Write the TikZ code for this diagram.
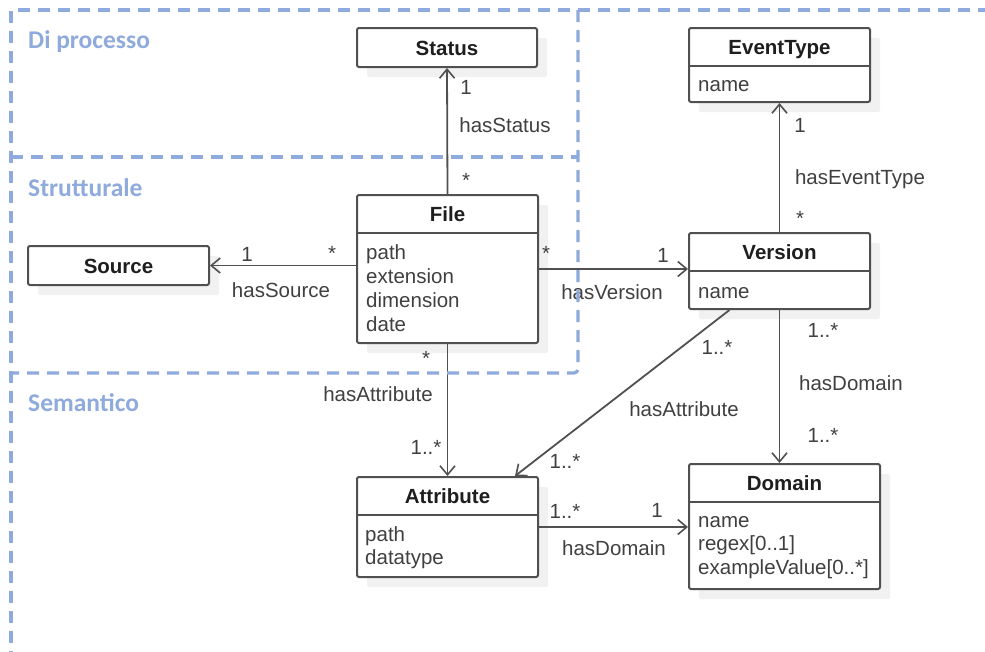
\documentclass[tikz,border=0pt]{standalone}
\usepackage{fontspec}
\setmainfont{Liberation Sans}
\newfontfamily\zonefont{Carlito}
\usetikzlibrary{arrows.meta,shadows}

\definecolor{zoneblue}{HTML}{8FAADC}
\definecolor{boxline}{HTML}{505050}
\definecolor{shadowgrey}{HTML}{F1F1F1}
\definecolor{textgrey}{HTML}{404040}
\definecolor{titleink}{HTML}{1E1E1E}

\begin{document}
\begin{tikzpicture}[x=1pt,y=-1pt,
  zone/.style={draw=zoneblue, line width=3.2pt, dash pattern=on 12pt off 8pt},
  zonelabel/.style={font=\zonefont\bfseries\fontsize{25.5}{28}\selectfont,
    text=zoneblue, anchor=base west, inner sep=0pt},
  classbox/.style={draw=boxline, line width=2pt, fill=white,
    rounded corners=2pt, inner sep=0pt,
    drop shadow={shadow xshift=10pt, shadow yshift=-10pt,
      fill=shadowgrey, opacity=1}},
  sepline/.style={draw=boxline, line width=2pt},
  classname/.style={font=\bfseries\fontsize{20.5}{24}\selectfont,
    text=titleink, inner sep=0pt, text height=15pt, text depth=0pt},
  attrlist/.style={font=\fontsize{20.5}{24}\selectfont, text=textgrey,
    align=left, anchor=north west, inner sep=0pt},
  assoc/.style={draw=boxline, line width=1.8pt,
    -{Straight Barb[length=9pt, width=15pt, line width=1.6pt]}},
  rel/.style={font=\fontsize{20.5}{24}\selectfont, text=textgrey,
    anchor=base, inner sep=0pt}
]
\useasboundingbox (0,0) rectangle (985,651);

\node[zonelabel] (zone-proc) at (28,48) {Di processo};
\node[zonelabel] (zone-strut) at (28,196) {Strutturale};
\node[zonelabel] (zone-sem) at (28,411) {Semantico};

% classes
\node[classbox, minimum width=180pt, minimum height=39pt] (status) at (447,47.5) {};
\node[classname] (status-name) at (status.center) {Status};

\node[classbox, minimum width=181pt, minimum height=39pt] (source) at (118.5,265.5) {};
\node[classname] (source-name) at (source.center) {Source};

\node[classbox, minimum width=181pt, minimum height=148pt] (file) at (447.5,269) {};
\draw[sepline] ([yshift=-39pt]file.north west) -- ([yshift=-39pt]file.north east);
\node[classname] (file-name) at ([yshift=-19.5pt]file.north) {File};
\node[attrlist] (file-attrs) at (366,243)
  {\rule{0pt}{16pt}path\\extension\\dimension\\date};

\node[classbox, minimum width=181pt, minimum height=74pt] (eventtype) at (779.5,65) {};
\draw[sepline] ([yshift=-39pt]eventtype.north west) -- ([yshift=-39pt]eventtype.north east);
\node[classname] (eventtype-name) at ([yshift=-19.5pt]eventtype.north) {EventType};
\node[attrlist] (eventtype-attrs) at (698,75) {\rule{0pt}{16pt}name};

\node[classbox, minimum width=181pt, minimum height=76pt] (version) at (779.5,271) {};
\draw[sepline] ([yshift=-39pt]version.north west) -- ([yshift=-39pt]version.north east);
\node[classname] (version-name) at ([yshift=-19.5pt]version.north) {Version};
\node[attrlist] (version-attrs) at (698,282) {\rule{0pt}{16pt}name};

\node[classbox, minimum width=181pt, minimum height=100pt] (attribute) at (447.5,527) {};
\draw[sepline] ([yshift=-39pt]attribute.north west) -- ([yshift=-39pt]attribute.north east);
\node[classname] (attribute-name) at ([yshift=-19.5pt]attribute.north) {Attribute};
\node[attrlist, font=\fontsize{20.5}{23}\selectfont] (attribute-attrs) at (365,525)
  {\rule{0pt}{16pt}path\\datatype};

\node[classbox, minimum width=191pt, minimum height=125pt] (domain) at (784.5,526.5) {};
\draw[sepline] ([yshift=-39pt]domain.north west) -- ([yshift=-39pt]domain.north east);
\node[classname] (domain-name) at ([yshift=-19.5pt]domain.north) {Domain};
\node[attrlist, font=\fontsize{20.5}{23.5}\selectfont] (domain-attrs) at (698,511)
  {\rule{0pt}{16pt}name\\regex[0..1]\\exampleValue[0..*]};

% associations
\draw[assoc] (file.north) -- (status.south);
\draw[assoc] (file.west |- source.east) -- (source.east);
\draw[assoc] (file.east) -- (version.west |- file.east);
\draw[assoc] (file.south) -- (attribute.north);
\draw[assoc] (version.north) -- (eventtype.south);
\draw[assoc] (version.south) -- (version.south |- domain.north);
\draw[assoc] ([xshift=-50pt]version.south) -- ([xshift=67.5pt]attribute.north);
\draw[assoc] (attribute.east) -- (domain.west |- attribute.east);

% association labels
\node[rel] (st-one) at (466,94) {1};
\node[rel] (st-name) at (505,132) {hasStatus};
\node[rel] (st-many) at (466,187) {*};

\node[rel] (so-one) at (247,261) {1};
\node[rel] (so-many) at (332,260) {*};
\node[rel] (so-name) at (281,297) {hasSource};

\node[rel] (ve-many) at (546,260) {*};
\node[rel] (ve-one) at (663,262) {1};
\node[rel] (ve-name) at (612,299) {hasVersion};

\node[rel] (fa-many) at (426,365) {*};
\node[rel] (fa-name) at (378,401) {hasAttribute};
\node[rel] (fa-mult) at (426,454) {1..*};

\node[rel] (et-one) at (800,132) {1};
\node[rel] (et-name) at (860,184) {hasEventType};
\node[rel] (et-many) at (800,225) {*};

\node[rel] (vd-src) at (823,337) {1..*};
\node[rel] (vd-name) at (851,390) {hasDomain};
\node[rel] (vd-dst) at (823,442) {1..*};

\node[rel] (va-src) at (717,354) {1..*};
\node[rel] (va-name) at (684,416) {hasAttribute};
\node[rel] (va-dst) at (565,468) {1..*};

\node[rel] (ad-src) at (565,518) {1..*};
\node[rel] (ad-dst) at (657,517) {1};
\node[rel] (ad-name) at (614,555) {hasDomain};

% zone borders, laid over the connectors
\draw[zone] (990,10) -- (11,10) -- (11,655);
\draw[zone, rounded corners=4pt] (578,10) -- (578,373) -- (11,373);
\draw[zone] (11,157) -- (578,157);
\end{tikzpicture}
\end{document}
